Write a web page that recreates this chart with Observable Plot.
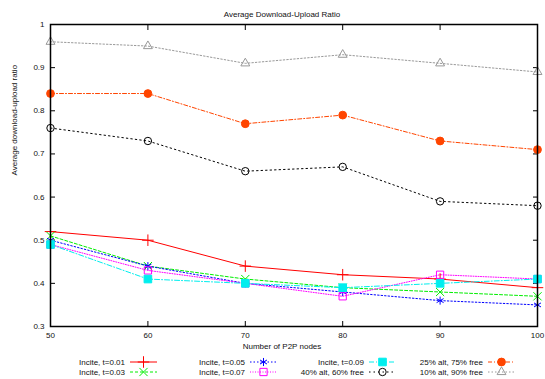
<!DOCTYPE html>
<html><head><meta charset="utf-8">
<script src="https://cdn.jsdelivr.net/npm/d3@7"></script>
<script src="https://cdn.jsdelivr.net/npm/@observablehq/plot@0.6"></script>
<style>
body{margin:0;background:#fff;font-family:"Liberation Sans",Arial,sans-serif}
#chart svg{display:block}
</style>
</head><body><div id="chart"></div><script>
// ---- data ----
const titleText = "Average Download-Upload Ratio";
const xLabel = "Number of P2P nodes";
const yLabel = "Average download-upload ratio";
const nodes = [50, 60, 70, 80, 90, 100];
const xTickLabels = ["50", "60", "70", "80", "90", "100"];
const yTicks = [0.3, 0.4, 0.5, 0.6, 0.7, 0.8, 0.9, 1];
const yTickLabels = ["0.3", "0.4", "0.5", "0.6", "0.7", "0.8", "0.9", "1"];
const seriesNames = ["Incite, t=0.01", "Incite, t=0.03", "Incite, t=0.05", "Incite, t=0.07",
  "Incite, t=0.09", "40% alt, 60% free", "25% alt, 75% free", "10% alt, 90% free"];
const inciteT001 = [0.52, 0.50, 0.44, 0.42, 0.41, 0.39];
const inciteT003 = [0.51, 0.44, 0.41, 0.39, 0.38, 0.37];
const inciteT005 = [0.50, 0.44, 0.40, 0.38, 0.36, 0.35];
const inciteT007 = [0.49, 0.43, 0.40, 0.37, 0.42, 0.41];
const inciteT009 = [0.49, 0.41, 0.40, 0.39, 0.40, 0.41];
const alt40 = [0.76, 0.73, 0.66, 0.67, 0.59, 0.58];
const alt25 = [0.84, 0.84, 0.77, 0.79, 0.73, 0.71];
const alt10 = [0.96, 0.95, 0.91, 0.93, 0.91, 0.89];
const seriesValues = [inciteT001, inciteT003, inciteT005, inciteT007, inciteT009, alt40, alt25, alt10];

// ---- styles ----
const styles = [
  {color: "#ff0000", dash: null, symbol: "plus", r: 3.8, fill: "none"},
  {color: "#00ee00", dash: "3,2", symbol: "times", r: 3.8, fill: "none"},
  {color: "#0000ff", dash: "1.5,2", symbol: "asterisk", r: 3.8, fill: "none"},
  {color: "#ff00ff", dash: "1,1.5", symbol: "square", r: 4.1, fill: "none"},
  {color: "#00eeee", dash: "5,2,1,2", symbol: "square", r: 4.3, fill: "#00eeee"},
  {color: "#000000", dash: "1.5,3", symbol: "circle", r: 3.7, fill: "none"},
  {color: "#ff4500", dash: "4,2,1,2", symbol: "circle", r: 3.9, fill: "#ff4500"},
  {color: "#999999", dash: "1.5,2", symbol: "triangle", r: 3.3, fill: "none"}
];

const rows = [];
seriesNames.forEach((s, i) => nodes.forEach((n, j) => rows.push({series: s, idx: i, x: n, y: seriesValues[i][j]})));

const font = "Liberation Sans, Arial, sans-serif";
const marks = [];
// inward ticks on all sides
marks.push(Plot.axisY(yTicks, {anchor: "left", tickSize: -5, fill: "none", label: null}));
marks.push(Plot.axisY(yTicks, {anchor: "right", tickSize: -5, fill: "none", label: null}));
marks.push(Plot.axisX(nodes, {anchor: "bottom", tickSize: -5, fill: "none", label: null}));
marks.push(Plot.axisX(nodes, {anchor: "top", tickSize: -5, fill: "none", label: null}));
// tick labels
marks.push(Plot.axisY(yTicks, {anchor: "left", tickSize: 0, tickPadding: 6, label: null, fontSize: 8, fill: "#111",
  tickFormat: d => yTickLabels[yTicks.indexOf(d)]}));
marks.push(Plot.axisX(nodes, {anchor: "bottom", tickSize: 0, tickPadding: 6, label: null, fontSize: 8, fill: "#111",
  tickFormat: d => xTickLabels[nodes.indexOf(d)]}));

seriesNames.forEach((s, i) => {
  const st = styles[i];
  const data = rows.filter(r => r.idx === i);
  marks.push(Plot.line(data, {x: "x", y: "y", stroke: st.color, strokeWidth: 1, strokeDasharray: st.dash}));
});
seriesNames.forEach((s, i) => {
  const st = styles[i];
  const data = rows.filter(r => r.idx === i);
  marks.push(Plot.dot(data, {x: "x", y: "y", symbol: () => st.symbol, r: st.r, stroke: st.color, fill: st.fill, strokeWidth: 1}));
});
marks.push(Plot.frame({stroke: "#000", strokeWidth: 1.5}));
marks.push(Plot.text([titleText], {frameAnchor: "top", dy: -13, dx: -12, fontSize: 8, fill: "#111"}));
marks.push(Plot.text([xLabel], {frameAnchor: "bottom", dy: 22, dx: -12, fontSize: 8, fill: "#111"}));
marks.push(Plot.text([yLabel], {frameAnchor: "left", dx: -36, rotate: -90, fontSize: 8, fill: "#111"}));

const chart = Plot.plot({
  width: 545, height: 355,
  marginLeft: 50, marginRight: 8, marginTop: 24, marginBottom: 29,
  style: {fontFamily: font, fontSize: "8px", background: "#fff", color: "#000", overflow: "visible"},
  x: {domain: [nodes[0], nodes[nodes.length - 1]]},
  y: {domain: [yTicks[0], yTicks[yTicks.length - 1]]},
  symbol: {type: "identity"},
  marks
});
document.getElementById("chart").appendChild(chart);

// ---- legend ----
const leg = d3.create("svg").attr("width", 545).attr("height", 24)
  .style("font-family", font).style("font-size", "8px");
const colRight = [125, 245, 364, 483];
const rowY = [7, 17];
const symMap = {plus: d3.symbolPlus, times: d3.symbolTimes, asterisk: d3.symbolAsterisk,
  square: d3.symbolSquare, circle: d3.symbolCircle, triangle: d3.symbolTriangle};
seriesNames.forEach((s, i) => {
  const st = styles[i];
  const cx = colRight[Math.floor(i / 2)], cy = rowY[i % 2];
  const g = leg.append("g");
  g.append("text").attr("x", cx).attr("y", cy).attr("dy", "0.32em").attr("text-anchor", "end").attr("fill", "#111").text(s);
  g.append("line").attr("x1", cx + 5).attr("x2", cx + 32).attr("y1", cy).attr("y2", cy)
    .attr("stroke", st.color).attr("stroke-dasharray", st.dash);
  g.append("path").attr("transform", `translate(${cx + 18.5},${cy})`)
    .attr("d", d3.symbol(symMap[st.symbol], Math.PI * st.r * st.r)())
    .attr("stroke", st.color).attr("fill", st.fill);
});
document.getElementById("chart").appendChild(leg.node());
</script></body></html>
